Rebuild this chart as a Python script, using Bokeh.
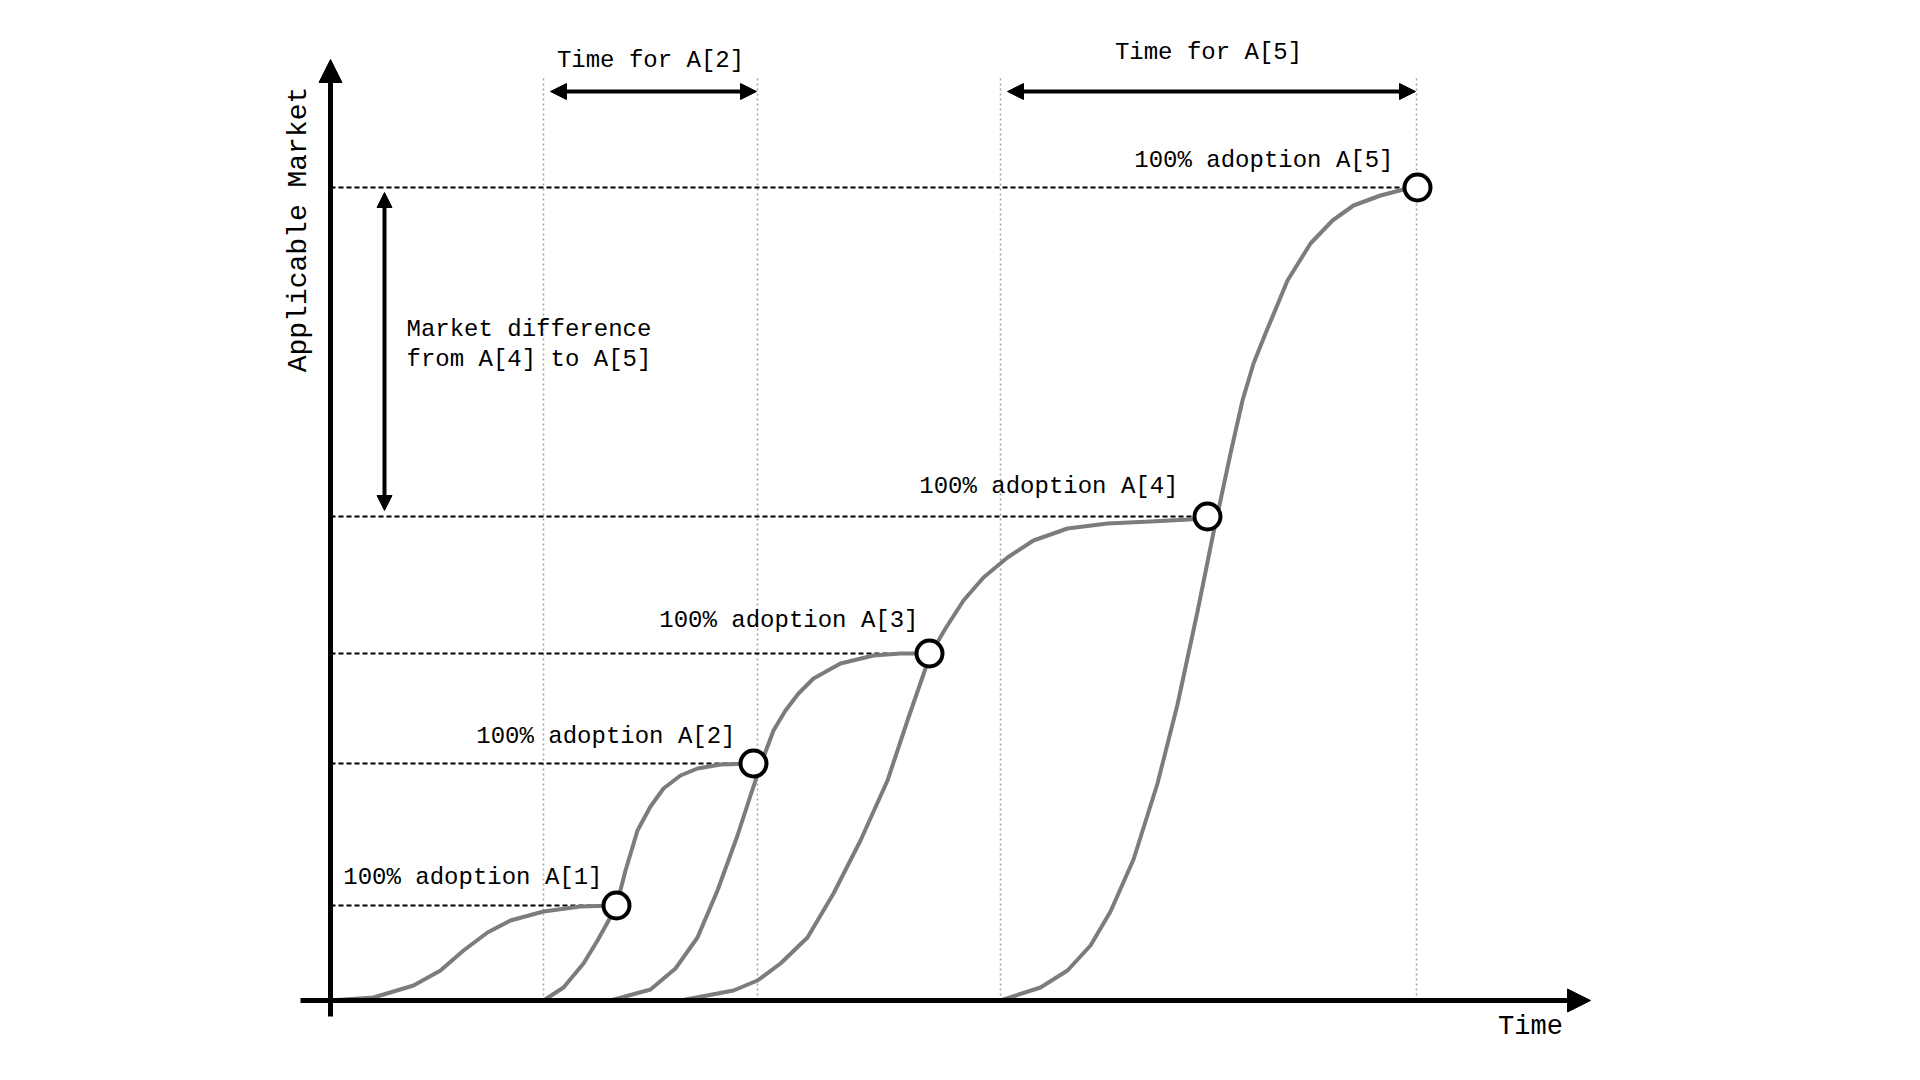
import math
from bokeh.plotting import figure
from bokeh.models import Arrow, NormalHead, Range1d, ColumnDataSource
from bokeh.core.properties import value
from bokeh.embed import file_html
from bokeh.resources import INLINE

# ---------------- data (time units / market units) ----------------
curve1_t = [0.0, 4.3, 8.3, 11.0, 13.3, 15.7, 18.0, 21.3, 25.0, 28.6]
curve1_m = [0.0, 0.3, 1.5, 3.0, 5.0, 6.8, 8.0, 8.9, 9.4, 9.5]

curve2_t = [21.3, 23.3, 25.3, 26.7, 27.7, 28.6, 29.5, 30.7, 32.0, 33.3, 35.0, 36.7, 39.0, 42.3]
curve2_m = [0.0, 1.3, 3.7, 6.0, 7.8, 9.5, 13.0, 17.0, 19.4, 21.2, 22.5, 23.2, 23.6, 23.7]

curve3_t = [28.0, 32.0, 34.5, 36.7, 38.7, 40.7, 42.0, 43.1, 44.3, 45.5, 46.8, 48.3, 51.0, 54.3, 57.0, 59.9]
curve3_m = [0.0, 1.1, 3.2, 6.3, 11.0, 16.5, 20.5, 23.8, 27.0, 29.0, 30.7, 32.2, 33.7, 34.5, 34.7, 34.7]

curve4_t = [35.0, 40.3, 42.7, 45.0, 47.7, 50.3, 53.0, 55.7, 57.8, 59.5, 60.5, 61.5, 63.3, 65.3,
            67.7, 70.3, 73.7, 77.7, 82.0, 87.7]
curve4_m = [0.0, 1.0, 2.0, 3.7, 6.3, 10.7, 16.0, 22.0, 28.3, 33.2, 35.5, 37.2, 40.0, 42.3,
            44.3, 46.0, 47.2, 47.7, 47.9, 48.2]

curve5_t = [67.0, 71.0, 73.7, 76.0, 78.0, 80.3, 82.7, 84.7, 86.7, 88.3, 88.7, 90.0, 91.2, 92.3,
            93.5, 95.7, 98.0, 100.2, 102.3, 105.0, 107.3, 108.7]
curve5_m = [0.0, 1.3, 3.0, 5.5, 8.9, 14.1, 21.7, 29.6, 38.9, 46.8, 48.6, 54.7, 60.0, 63.7,
            66.7, 72.0, 75.7, 78.0, 79.5, 80.5, 81.1, 81.3]

adopt_t = [28.6, 42.3, 59.9, 87.7, 108.7]
adopt_m = [9.5, 23.7, 34.7, 48.4, 81.3]
adopt_labels = ["100% adoption A[1]", "100% adoption A[2]", "100% adoption A[3]",
                "100% adoption A[4]", "100% adoption A[5]"]

period_t = [21.3, 42.7, 67.0, 108.6]          # vertical dotted time markers
time_spans = [(21.3, 42.7, "Time for A[2]"), (67.0, 108.6, "Time for A[5]")]
market_span = (48.4, 81.3)
market_text = ["Market difference", "from A[4] to A[5]"]

x_label = "Time"
y_label = "Applicable Market"

# ---------------- figure ----------------
FONT = value("Liberation Mono")
p = figure(width=1904, height=1064, x_range=Range1d(-33.0, 157.4), y_range=Range1d(-6.4, 100.0),
           x_axis_type=None, y_axis_type=None, output_backend="svg", toolbar_location=None,
           min_border=0)
p.grid.visible = False
p.outline_line_color = None
p.background_fill_color = "white"

# vertical dotted time markers
p.segment(x0=period_t, y0=[0] * len(period_t), x1=period_t, y1=[92.5] * len(period_t),
          line_color="#a0a0a0", line_width=1.5, line_dash="2 3")

# dashed market levels
p.segment(x0=[0] * len(adopt_t), y0=adopt_m, x1=adopt_t, y1=adopt_m,
          line_color="black", line_width=2, line_dash="5 3")

# adoption curves
for ct, cm in [(curve1_t, curve1_m), (curve2_t, curve2_m), (curve3_t, curve3_m),
               (curve4_t, curve4_m), (curve5_t, curve5_m)]:
    p.line(ct, cm, line_color="#7c7c7c", line_width=4, line_join="round")

# adoption markers
p.scatter(adopt_t, adopt_m, size=26, marker="circle", fill_color="white",
          line_color="black", line_width=4)

# adoption labels
lab_src = ColumnDataSource(dict(x=adopt_t, y=adopt_m, text=adopt_labels,
                                xo=[-14, -18, -11, -29, -24], yo=[-28, -27, -33, -30, -27]))
p.text(x="x", y="y", text="text", source=lab_src, x_offset="xo", y_offset="yo",
       text_align="right", text_baseline="middle", text_font=FONT,
       text_font_size="24px", text_color="black")


def add_arrow(x0, y0, x1, y1, size, lw, both=False):
    def head():
        return NormalHead(size=size, fill_color="black", line_color="black", line_width=1)
    p.add_layout(Arrow(start=head() if both else None, end=head(), x_start=x0, y_start=y0,
                       x_end=x1, y_end=y1, line_width=lw, line_color="black"))


# axes as arrows
add_arrow(-3.0, 0, 126.0, 0, 23, 5)
add_arrow(0, -1.6, 0, 94.1, 23, 5)

p.text(x=[120.0], y=[-2.6], text=[x_label], text_align="center", text_baseline="middle",
       text_font=FONT, text_font_size="27px", text_color="black")
p.text(x=[-3.2], y=[77.1], text=[y_label], angle=math.pi / 2, text_align="center",
       text_baseline="middle", text_font=FONT, text_font_size="28px", text_color="black")

# time span arrows
for (a, b, lab), ty in zip(time_spans, [94.0, 94.8]):
    add_arrow(a + 0.7, 90.9, b - 0.1, 90.9, 16, 4, both=True)
    p.text(x=[(a + b) / 2], y=[ty], text=[lab], text_align="center", text_baseline="middle",
           text_font=FONT, text_font_size="24px", text_color="black")

# market difference arrow
add_arrow(5.4, market_span[0] + 0.6, 5.4, market_span[1] - 0.5, 15, 4, both=True)
p.text(x=[7.6, 7.6], y=[67.1, 64.1], text=market_text, text_align="left", text_baseline="middle",
       text_font=FONT, text_font_size="24px", text_color="black")

open("out.html", "w").write(file_html(p, INLINE))
